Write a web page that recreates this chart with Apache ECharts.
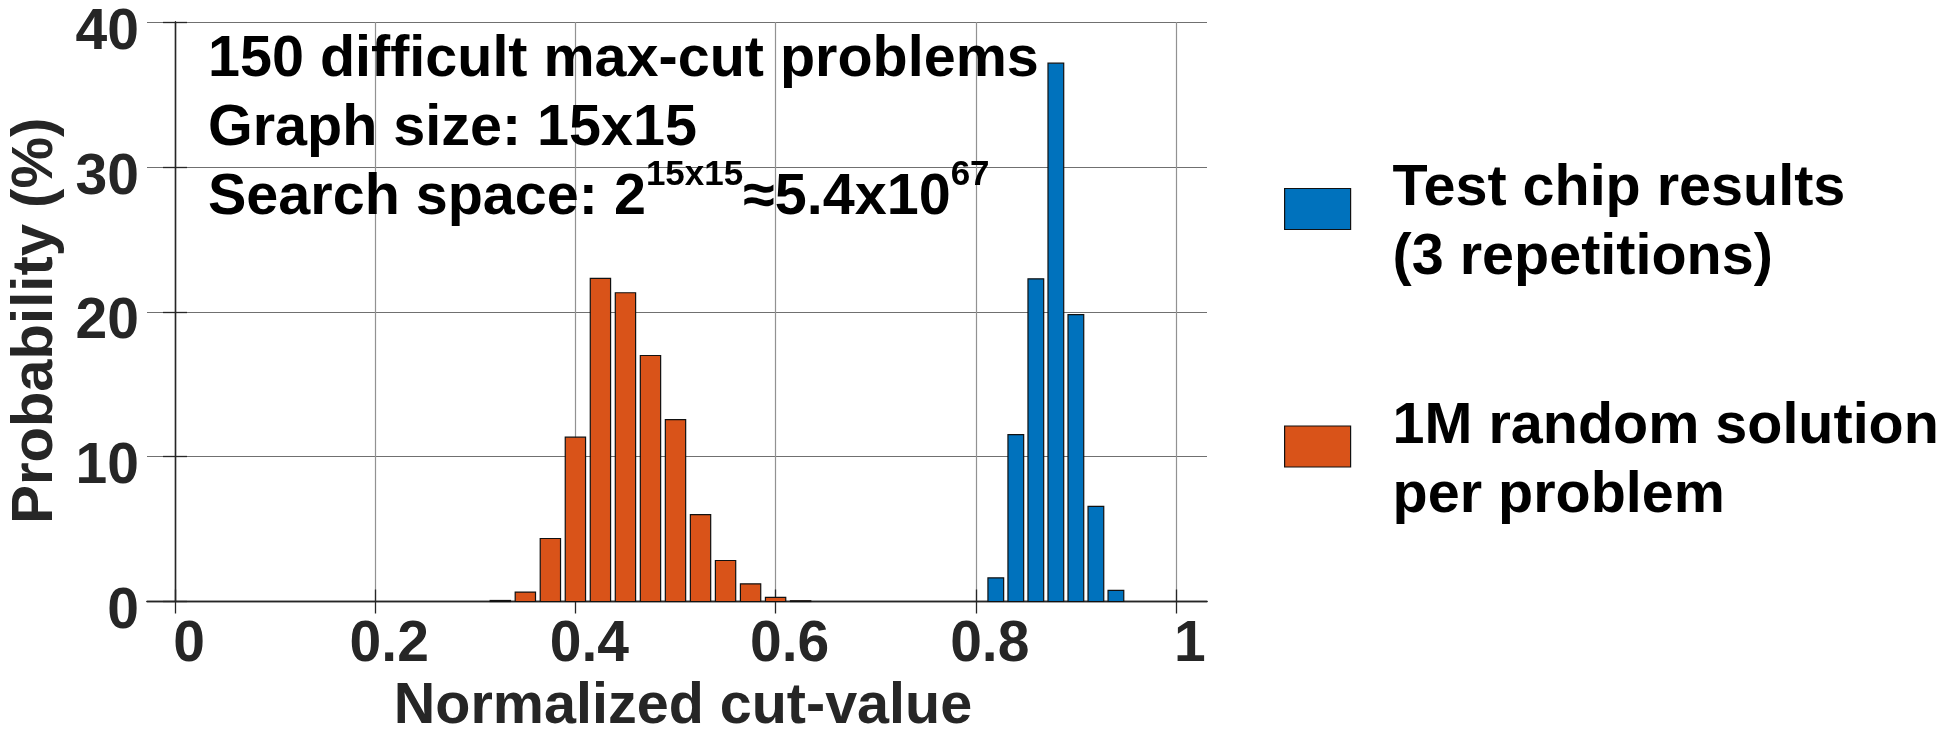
<!DOCTYPE html>
<html>
<head>
<meta charset="utf-8">
<title>Max-cut solution quality</title>
<script src="https://cdn.jsdelivr.net/npm/echarts@6/dist/echarts.min.js"></script>
<style>
  html, body { margin: 0; padding: 0; background: #fff; }
  #chart { width: 1954px; height: 729px; }
</style>
</head>
<body>
<div id="chart"></div>
<script>
// Histogram bins (bin centres, normalized cut-value) and probabilities (%)
const randomBins = [0.325, 0.35, 0.375, 0.4, 0.425, 0.45, 0.475, 0.5, 0.525, 0.55, 0.575, 0.6, 0.625];
const randomProb = [0.07, 0.65, 4.35, 11.34, 22.30, 21.31, 16.98, 12.56, 5.99, 2.83, 1.22, 0.28, 0.05];
const chipBins = [0.82, 0.84, 0.86, 0.88, 0.90, 0.92, 0.94];
const chipProb = [1.63, 11.52, 22.27, 37.16, 19.80, 6.56, 0.77];

// Axis ticks
const xTicks = [0, 0.2, 0.4, 0.6, 0.8, 1];
const yTicks = [0, 10, 20, 30, 40];

const seriesNames = ['Test chip results\n(3 repetitions)', '1M random solution\nper problem'];
const noteLines = ['150 difficult max-cut problems', 'Graph size: 15x15'];

const FONT = '"Liberation Sans", Arial, Helvetica, sans-serif';
const BLUE = '#0072BD';
const ORANGE = '#D95319';
const AXIS = '#262626';

function zip(xs, ys) { return xs.map((x, i) => [x, ys[i]]); }

// Draws each bin as a rectangle spanning [centre - w/2, centre + w/2] in data units
function barRenderer(width, fill) {
  return function (params, api) {
    const x = api.value(0), y = api.value(1);
    const p0 = api.coord([x - width / 2, y]);
    const p1 = api.coord([x + width / 2, 0]);
    return {
      type: 'rect',
      shape: { x: p0[0], y: p0[1], width: p1[0] - p0[0], height: p1[1] - p0[1] },
      style: { fill: fill, stroke: '#111', lineWidth: 1.2 }
    };
  };
}

const chart = echarts.init(document.getElementById('chart'), null, { renderer: 'canvas' });

const xMin = -0.028, xMax = 1.031;
const tickStyle = { show: true, inside: true, length: 12, lineStyle: { color: AXIS, width: 1.3 } };

const option = {
  backgroundColor: '#fff',
  animation: false,
  textStyle: { fontFamily: FONT },
  grid: { left: 147, top: 22, width: 1060, height: 579.5, containLabel: false, outerBoundsMode: 'none' },
  xAxis: [
    {
      type: 'value', min: xMin, max: xMax, position: 'bottom',
      name: 'Normalized cut-value', nameLocation: 'middle', nameGap: 75,
      nameTextStyle: { fontSize: 57.5, fontWeight: 'bold', color: AXIS, fontFamily: FONT, padding: [0, 0, 0, 12] },
      axisLine: { show: true, lineStyle: { color: AXIS, width: 1.4 } },
      axisTick: Object.assign({ customValues: xTicks }, tickStyle),
      axisLabel: {
        customValues: xTicks, margin: 15, color: AXIS,
        formatter: v => '{v|' + String(+(+v).toFixed(1)) + '}',
        rich: { v: { fontSize: 57, fontWeight: 'bold', color: AXIS, fontFamily: FONT, padding: [0, 0, 0, 28] } }
      },
      splitLine: { show: true, lineStyle: { color: '#929292', width: 1.2 } }
    },
    {
      type: 'value', min: xMin, max: xMax, position: 'top',
      axisLine: { show: true, lineStyle: { color: AXIS, width: 1.3 } },
      axisTick: Object.assign({ customValues: xTicks }, tickStyle),
      axisLabel: { show: false },
      splitLine: { show: false }
    }
  ],
  yAxis: [
    {
      type: 'value', min: 0, max: 40, interval: 10, position: 'left',
      name: 'Probability (%)', nameLocation: 'middle', nameRotate: 90, nameGap: 64,
      nameTextStyle: { fontSize: 58, fontWeight: 'bold', color: AXIS, fontFamily: FONT, padding: [0, 18, 0, 0] },
      axisLine: { show: true, lineStyle: { color: AXIS, width: 1.3 } },
      axisTick: tickStyle,
      axisLabel: {
        margin: 8, fontSize: 57, fontWeight: 'bold', color: AXIS, fontFamily: FONT,
        verticalAlign: 'top', lineHeight: 22
      },
      splitLine: { show: true, lineStyle: { color: '#707070', width: 1.2 } }
    },
    {
      type: 'value', min: 0, max: 40, interval: 10, position: 'right',
      axisLine: { show: true, lineStyle: { color: AXIS, width: 1.3 } },
      axisTick: tickStyle,
      axisLabel: { show: false },
      splitLine: { show: false }
    }
  ],
  legend: {
    orient: 'vertical', left: 1279, top: 134, itemGap: 89,
    itemWidth: 66, itemHeight: 41,
    formatter: function (name) {
      // a thin spacer line lowers the label block against its swatch
      return '{sp| }\n' + name.split('\n').map(l => '{t|' + l + '}').join('\n');
    },
    textStyle: {
      fontSize: 57.5, fontWeight: 'bold', color: '#000', fontFamily: FONT,
      padding: [0, 0, 0, 37],
      rich: {
        sp: { fontSize: 2, lineHeight: 30 },
        t: { fontSize: 57.5, fontWeight: 'bold', color: '#000', fontFamily: FONT, lineHeight: 69 }
      }
    },
    data: [
      { name: seriesNames[0], icon: 'rect', itemStyle: { color: BLUE, borderColor: '#111', borderWidth: 1.2 } },
      { name: seriesNames[1], icon: 'rect', itemStyle: { color: ORANGE, borderColor: '#111', borderWidth: 1.2 } }
    ]
  },
  graphic: [
    {
      type: 'text', left: 208, top: 31, z: 10,
      style: {
        text: [
          '{m|' + noteLines[0] + '}',
          '{m|' + noteLines[1] + '}',
          '{m|Search space: 2}{s|15x15}{m|≈5.4x10}{s|67}'
        ].join('\n'),
        fill: '#000',
        rich: {
          m: { fontSize: 57.5, fontWeight: 'bold', fontFamily: FONT, lineHeight: 69, verticalAlign: 'bottom', fill: '#000', color: '#000' },
          s: { fontSize: 35, fontWeight: 'bold', fontFamily: FONT, lineHeight: 34, verticalAlign: 'top', fill: '#000', color: '#000' }
        }
      }
    }
  ],
  series: [
    {
      name: seriesNames[0], type: 'custom', xAxisIndex: 0, yAxisIndex: 0,
      itemStyle: { color: BLUE, borderColor: '#111', borderWidth: 1.2 },
      renderItem: barRenderer(0.0157, BLUE),
      encode: { x: 0, y: 1 },
      data: zip(chipBins, chipProb),
      z: 3
    },
    {
      name: seriesNames[1], type: 'custom', xAxisIndex: 0, yAxisIndex: 0,
      itemStyle: { color: ORANGE, borderColor: '#111', borderWidth: 1.2 },
      renderItem: barRenderer(0.0203, ORANGE),
      encode: { x: 0, y: 1 },
      data: zip(randomBins, randomProb),
      z: 3
    }
  ]
};

chart.setOption(option);
</script>
</body>
</html>
